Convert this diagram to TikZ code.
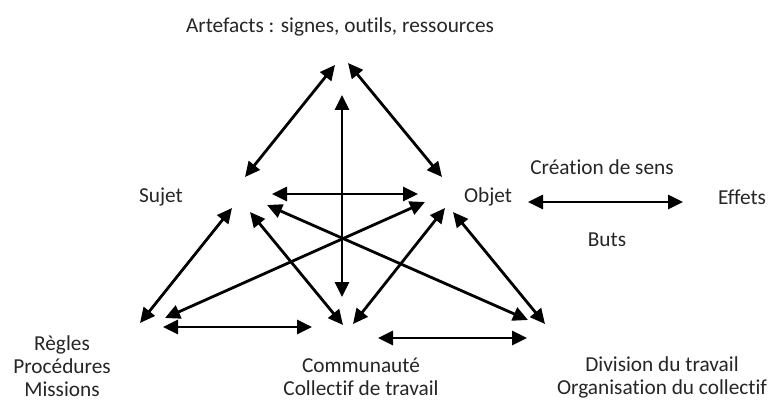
\documentclass[tikz,border=0pt]{standalone}
\usepackage{fontspec}
\setmainfont[Ligatures=NoCommon]{Carlito}
\usetikzlibrary{arrows.meta}
\begin{document}
\begin{tikzpicture}[x=1pt,y=-1pt,
  lbl/.style={font=\fontsize{21.3}{23}\selectfont, align=center, inner sep=0pt, text=black!85},
  link/.style={draw=black, line width=2.8pt, {Triangle[length=15pt,width=14pt]}-{Triangle[length=15pt,width=14pt]}}]
\useasboundingbox[fill=white] (0,0) rectangle (771,406);
% labels
\node[lbl] (art) at (340,27) {Artefacts : signes, outils, ressources};
\node[lbl] (suj) at (161,197) {Sujet};
\node[lbl] (obj) at (488,197) {Objet};
\node[lbl] (sens) at (602,167) {Création de sens};
\node[lbl] (eff) at (742,197) {Effets};
\node[lbl] (buts) at (607,240) {Buts};
\node[lbl] (reg) at (62,366) {Règles\\Procédures\\Missions};
\node[lbl] (com) at (361,377) {Communauté\\Collectif de travail};
\node[lbl] (div) at (662,377) {Division du travail\\Organisation du collectif};
% arrow endpoints
\coordinate (aL) at (335,65);   \coordinate (sA) at (245,177);
\coordinate (aR) at (348,63);   \coordinate (oA) at (442,177);
\coordinate (vT) at (342,95);   \coordinate (vB) at (342,297);
\coordinate (sO) at (272,194);  \coordinate (oS) at (418,194);
\coordinate (sR) at (232,208);  \coordinate (rS) at (140,323);
\coordinate (oR) at (425,202);  \coordinate (rO) at (165,318);
\coordinate (rC) at (163,327);  \coordinate (cR) at (312,327);
\coordinate (sC) at (250,212);  \coordinate (cS) at (343,325);
\coordinate (sD) at (267,205);  \coordinate (dS) at (528,320);
\coordinate (oC) at (445,208);  \coordinate (cO) at (353,324);
\coordinate (oD) at (453,212);  \coordinate (dO) at (545,324);
\coordinate (cD) at (378,338);  \coordinate (dC) at (527,338);
\coordinate (oE) at (528,202);  \coordinate (eO) at (683,202);
% connectors
\draw[link] (aL) -- (sA);
\draw[link] (aR) -- (oA);
\draw[link] (vT) -- (vB);
\draw[link] (sO) -- (oS);
\draw[link] (sR) -- (rS);
\draw[link] (oR) -- (rO);
\draw[link] (rC) -- (cR);
\draw[link] (sC) -- (cS);
\draw[link] (sD) -- (dS);
\draw[link] (oC) -- (cO);
\draw[link] (oD) -- (dO);
\draw[link] (cD) -- (dC);
\draw[link] (oE) -- (eO);
\end{tikzpicture}
\end{document}
